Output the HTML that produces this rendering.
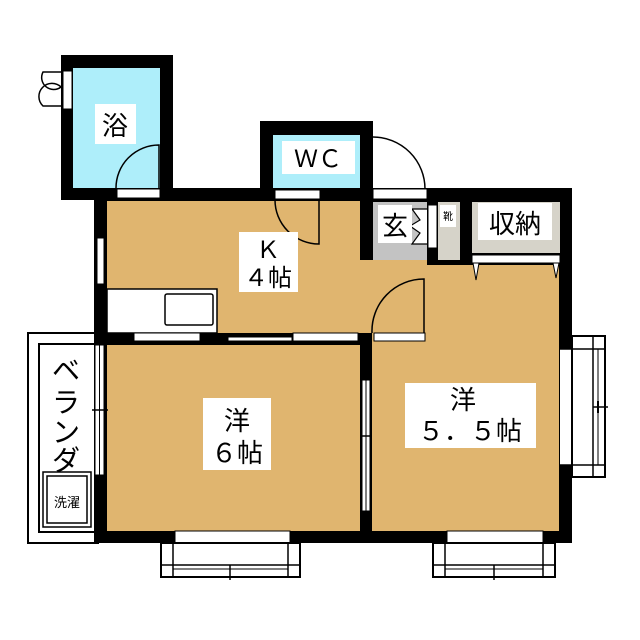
<!DOCTYPE html>
<html><head><meta charset="utf-8"><style>
html,body{margin:0;padding:0;background:#fff;}
svg{display:block;}
text{font-family:"Liberation Sans","Noto Sans CJK JP",sans-serif;fill:#000;}
</style></head><body>
<svg width="640" height="640" viewBox="0 0 640 640" xmlns="http://www.w3.org/2000/svg">
<rect x="28" y="333" width="70" height="210" fill="#fff" stroke="#000" stroke-width="2"/>
<rect x="39" y="344" width="59" height="188" fill="#fff" stroke="#000" stroke-width="2"/>
<rect x="61" y="55" width="112" height="145" fill="#000"/>
<rect x="73" y="68" width="87" height="120" fill="#aeeefa"/>
<rect x="260" y="121" width="113" height="80" fill="#000"/>
<rect x="273" y="135" width="87" height="53" fill="#aeeefa"/>
<rect x="94" y="188" width="478" height="355" fill="#000"/>
<rect x="107" y="201" width="253" height="132" fill="#e0b56f"/>
<rect x="360" y="260" width="67" height="73" fill="#e0b56f"/>
<rect x="373" y="202" width="54" height="58" fill="#c3c3c3"/>
<rect x="438" y="202" width="22" height="58" fill="#d6d3c9"/>
<rect x="472" y="202" width="88" height="51" fill="#d6d3c9"/>
<rect x="107" y="345" width="253" height="186" fill="#e0b56f"/>
<rect x="372" y="265" width="187" height="266" fill="#e0b56f"/>
<rect x="437" y="265" width="35" height="80" fill="#e0b56f"/>
<rect x="472" y="255" width="88" height="8" fill="#fff" stroke="#000" stroke-width="1"/>
<polygon points="473,263 479,263 476,280" fill="#fff" stroke="#000" stroke-width="1"/>
<polygon points="553,263 559,263 556,278" fill="#fff" stroke="#000" stroke-width="1"/>
<rect x="117" y="189" width="43" height="9" fill="#fff" stroke="#000" stroke-width="1"/>
<rect x="275" y="190" width="45" height="9" fill="#fff" stroke="#000" stroke-width="1"/>
<rect x="373" y="189" width="54" height="10" fill="#fff" stroke="#000" stroke-width="1"/>
<rect x="428" y="205" width="9" height="43" fill="#fff" stroke="#000" stroke-width="1"/>
<path d="M116 188 A43 43 0 0 1 159 145 L159 188" fill="none" stroke="#000" stroke-width="1.5"/>
<path d="M275 200 A44 44 0 0 0 319 244 L319 200" fill="none" stroke="#000" stroke-width="1.5"/>
<path d="M373 137 A52 52 0 0 1 425 189" fill="none" stroke="#000" stroke-width="1.5"/>
<path d="M372 333 A52 52 0 0 1 424 279 L424 333" fill="none" stroke="#000" stroke-width="1.5"/>
<rect x="63" y="71" width="9" height="38" fill="#fff" stroke="#000" stroke-width="1"/>
<path d="M61 72 L43 72 A12 12 0 0 0 61 87 A12 12 0 0 0 43 106 L61 106" fill="none" stroke="#000" stroke-width="1.5"/>
<path d="M427 209 L412 209 L420 220 L410 226 L420 233 L412 244 L427 244" fill="#fff" stroke="#000" stroke-width="1.2"/>
<rect x="97" y="238" width="7" height="46" fill="#fff" stroke="#000" stroke-width="1"/>
<rect x="107" y="289" width="110" height="44" fill="#fff" stroke="#000" stroke-width="1.5"/>
<rect x="165" y="294" width="48" height="31" rx="2" fill="#fff" stroke="#000" stroke-width="1.5"/>
<rect x="134" y="333" width="66" height="8" fill="#fff" stroke="#000" stroke-width="1"/>
<rect x="228" y="337" width="64" height="4" fill="#fff" stroke="#000" stroke-width="1"/>
<rect x="293" y="333" width="65" height="8" fill="#fff" stroke="#000" stroke-width="1"/>
<rect x="374" y="333" width="51" height="8" fill="#fff" stroke="#000" stroke-width="1"/>
<rect x="95" y="345" width="9" height="130" fill="#fff" stroke="#000" stroke-width="1"/>
<line x1="99.5" y1="345" x2="99.5" y2="475" stroke="#000" stroke-width="1"/>
<line x1="92" y1="410" x2="108" y2="410" stroke="#000" stroke-width="1.5"/>
<rect x="362" y="380" width="8" height="131" fill="#fff" stroke="#000" stroke-width="1"/>
<line x1="366" y1="380" x2="366" y2="511" stroke="#000" stroke-width="1"/>
<line x1="360" y1="436" x2="372" y2="436" stroke="#000" stroke-width="1.5"/>
<rect x="560" y="349" width="12" height="116" fill="#fff"/>
<rect x="572" y="336" width="33" height="141" fill="#fff" stroke="#000" stroke-width="2"/>
<line x1="560" y1="349" x2="605" y2="349" stroke="#000" stroke-width="1.5"/>
<line x1="560" y1="465" x2="605" y2="465" stroke="#000" stroke-width="1.5"/>
<line x1="593" y1="336" x2="593" y2="477" stroke="#000" stroke-width="1.5"/>
<line x1="598" y1="349" x2="598" y2="465" stroke="#000" stroke-width="1"/>
<line x1="593" y1="407" x2="608" y2="407" stroke="#000" stroke-width="1.5"/>
<line x1="598" y1="401" x2="598" y2="413" stroke="#000" stroke-width="2"/>
<g>
<rect x="175" y="531" width="115" height="12" fill="#fff" stroke="#000" stroke-width="1"/>
<rect x="161" y="543" width="139" height="34" fill="#fff" stroke="#000" stroke-width="2"/>
<line x1="173" y1="543" x2="173" y2="577" stroke="#000" stroke-width="1.5"/>
<line x1="288" y1="543" x2="288" y2="577" stroke="#000" stroke-width="1.5"/>
<line x1="161" y1="565" x2="300" y2="565" stroke="#000" stroke-width="1.5"/>
<line x1="173" y1="569" x2="288" y2="569" stroke="#000" stroke-width="1"/>
<line x1="230" y1="565" x2="230" y2="580" stroke="#000" stroke-width="1.5"/>
</g>
<g>
<rect x="447" y="531" width="96" height="12" fill="#fff" stroke="#000" stroke-width="1"/>
<rect x="433" y="543" width="122" height="34" fill="#fff" stroke="#000" stroke-width="2"/>
<line x1="445" y1="543" x2="445" y2="577" stroke="#000" stroke-width="1.5"/>
<line x1="543" y1="543" x2="543" y2="577" stroke="#000" stroke-width="1.5"/>
<line x1="433" y1="565" x2="555" y2="565" stroke="#000" stroke-width="1.5"/>
<line x1="445" y1="569" x2="543" y2="569" stroke="#000" stroke-width="1"/>
<line x1="494" y1="565" x2="494" y2="580" stroke="#000" stroke-width="1.5"/>
</g>
<rect x="43" y="472" width="48" height="55" fill="#fff" stroke="#000" stroke-width="1.5"/>
<rect x="47" y="476" width="40" height="47" fill="#fff" stroke="#000" stroke-width="1.5"/>
<text x="67" y="507" font-size="13" text-anchor="middle">洗濯</text>
<rect x="95" y="104" width="41" height="40" fill="#fff"/>
<text x="115" y="135" font-size="26" text-anchor="middle">浴</text>
<rect x="282" y="141" width="73" height="33" fill="#fff"/>
<text x="318" y="167" font-size="24" text-anchor="middle">ＷＣ</text>
<rect x="378" y="205" width="34" height="38" fill="#fff"/>
<text x="395" y="235" font-size="26" text-anchor="middle">玄</text>
<rect x="440" y="205" width="16" height="22" fill="#fff"/>
<text x="448" y="220" font-size="10" text-anchor="middle">靴</text>
<rect x="478" y="203" width="74" height="37" fill="#fff"/>
<text x="515" y="233" font-size="26" text-anchor="middle">収納</text>
<rect x="239" y="232" width="59" height="60" fill="#fff"/>
<text x="268" y="258" font-size="24" text-anchor="middle">Ｋ</text>
<text x="268" y="286" font-size="24" text-anchor="middle">４帖</text>
<rect x="203" y="398" width="68" height="72" fill="#fff"/>
<text x="237" y="430" font-size="26" text-anchor="middle">洋</text>
<text x="237" y="462" font-size="26" text-anchor="middle">６帖</text>
<rect x="405" y="383" width="131" height="65" fill="#fff"/>
<text x="463" y="409" font-size="26" text-anchor="middle">洋</text>
<text x="470" y="440" font-size="26" text-anchor="middle">５．５帖</text>
<g font-size="28">
<text x="66" y="380" text-anchor="middle">ベ</text>
<text x="66" y="412" text-anchor="middle">ラ</text>
<text x="66" y="442" text-anchor="middle">ン</text>
<text x="66" y="470" text-anchor="middle">ダ</text>
</g>
</svg>
</body></html>
